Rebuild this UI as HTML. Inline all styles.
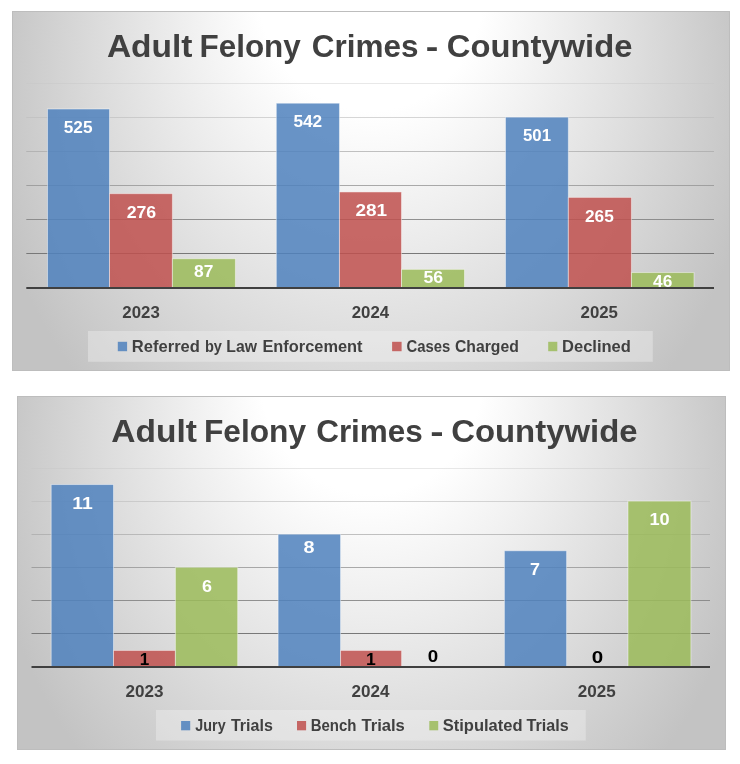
<!DOCTYPE html>
<html><head><meta charset="utf-8"><title>Adult Felony Crimes - Countywide</title>
<style>
html,body{margin:0;padding:0;background:#fff;}
body{width:740px;height:764px;overflow:hidden;font-family:"Liberation Sans", sans-serif;}
svg{display:block;will-change:transform;}
svg text{font-family:"Liberation Sans", sans-serif;}
</style></head><body>
<svg width="740" height="764" viewBox="0 0 740 764">
<defs>
<radialGradient id="g1" gradientUnits="userSpaceOnUse" cx="0" cy="0" r="1" fx="0" fy="-0.385" gradientTransform="translate(371.00 101.00) scale(384.92 426.46)"><stop offset="0" stop-color="#ffffff"/><stop offset="0.295" stop-color="#ffffff"/><stop offset="1" stop-color="#c3c3c3"/></radialGradient>
<radialGradient id="g2" gradientUnits="userSpaceOnUse" cx="0" cy="0" r="1" fx="0" fy="-0.385" gradientTransform="translate(371.50 484.50) scale(380.09 419.35)"><stop offset="0" stop-color="#ffffff"/><stop offset="0.295" stop-color="#ffffff"/><stop offset="1" stop-color="#c3c3c3"/></radialGradient>
</defs>
<rect x="0" y="0" width="740" height="764" fill="#ffffff"/>
<rect x="12" y="11" width="718" height="360" fill="url(#g1)"/>
<rect x="12.5" y="11.5" width="717" height="359" fill="none" stroke="#bdbdbd" stroke-width="1"/>
<line x1="26.3" x2="714" y1="83.5" y2="83.5" stroke="rgb(197,197,197)" stroke-opacity="0.4" stroke-width="1.0"/>
<line x1="26.3" x2="714" y1="117.5" y2="117.5" stroke="rgb(189,189,189)" stroke-opacity="0.62" stroke-width="1.0"/>
<line x1="26.3" x2="714" y1="151.5" y2="151.5" stroke="rgb(168,168,168)" stroke-opacity="0.7" stroke-width="1.0"/>
<line x1="26.3" x2="714" y1="185.5" y2="185.5" stroke="rgb(147,147,147)" stroke-opacity="0.78" stroke-width="1.0"/>
<line x1="26.3" x2="714" y1="219.5" y2="219.5" stroke="rgb(131,131,131)" stroke-opacity="0.88" stroke-width="1.0"/>
<line x1="26.3" x2="714" y1="253.5" y2="253.5" stroke="rgb(120,120,120)" stroke-opacity="1.0" stroke-width="1.0"/>
<rect x="47.50" y="109.00" width="62.00" height="178.50" fill="rgb(79,129,189)" fill-opacity="0.85" stroke="#ffffff" stroke-opacity="0.45" stroke-width="1"/>
<rect x="109.50" y="193.66" width="62.90" height="93.84" fill="rgb(192,80,77)" fill-opacity="0.85" stroke="#ffffff" stroke-opacity="0.45" stroke-width="1"/>
<rect x="172.40" y="258.72" width="63.00" height="28.78" fill="rgb(155,187,89)" fill-opacity="0.85" stroke="#ffffff" stroke-opacity="0.45" stroke-width="1"/>
<rect x="276.30" y="103.22" width="63.15" height="184.28" fill="rgb(79,129,189)" fill-opacity="0.85" stroke="#ffffff" stroke-opacity="0.45" stroke-width="1"/>
<rect x="339.45" y="191.96" width="62.05" height="95.54" fill="rgb(192,80,77)" fill-opacity="0.85" stroke="#ffffff" stroke-opacity="0.45" stroke-width="1"/>
<rect x="401.50" y="269.36" width="63.00" height="18.14" fill="rgb(155,187,89)" fill-opacity="0.85" stroke="#ffffff" stroke-opacity="0.45" stroke-width="1"/>
<rect x="505.50" y="117.16" width="62.85" height="170.34" fill="rgb(79,129,189)" fill-opacity="0.85" stroke="#ffffff" stroke-opacity="0.45" stroke-width="1"/>
<rect x="568.35" y="197.40" width="63.10" height="90.10" fill="rgb(192,80,77)" fill-opacity="0.85" stroke="#ffffff" stroke-opacity="0.45" stroke-width="1"/>
<rect x="631.45" y="272.56" width="62.55" height="14.94" fill="rgb(155,187,89)" fill-opacity="0.85" stroke="#ffffff" stroke-opacity="0.45" stroke-width="1"/>
<line x1="26.3" x2="714" y1="288.0" y2="288.0" stroke="#404040" stroke-width="2.0"/>
<text x="63.78" y="133" font-size="16.5" font-weight="bold" fill="#fff" textLength="28.76" lengthAdjust="spacingAndGlyphs">525</text>
<text x="126.66" y="217.8" font-size="16.5" font-weight="bold" fill="#fff" textLength="29.56" lengthAdjust="spacingAndGlyphs">276</text>
<text x="194.12" y="276.8" font-size="16.5" font-weight="bold" fill="#fff" textLength="19.32" lengthAdjust="spacingAndGlyphs">87</text>
<text x="293.46" y="126.9" font-size="16.5" font-weight="bold" fill="#fff" textLength="28.76" lengthAdjust="spacingAndGlyphs">542</text>
<text x="355.44" y="215.8" font-size="16.5" font-weight="bold" fill="#fff" textLength="31.62" lengthAdjust="spacingAndGlyphs">281</text>
<text x="423.56" y="283.4" font-size="16.5" font-weight="bold" fill="#fff" textLength="19.66" lengthAdjust="spacingAndGlyphs">56</text>
<text x="523.02" y="141.1" font-size="16.5" font-weight="bold" fill="#fff" textLength="27.96" lengthAdjust="spacingAndGlyphs">501</text>
<text x="585.00" y="222.2" font-size="16.5" font-weight="bold" fill="#fff" textLength="28.76" lengthAdjust="spacingAndGlyphs">265</text>
<text x="653.14" y="287.2" font-size="16.5" font-weight="bold" fill="#fff" textLength="19.18" lengthAdjust="spacingAndGlyphs">46</text>
<text x="122.34" y="317.6" font-size="16.5" font-weight="bold" fill="#404040" textLength="37.42" lengthAdjust="spacingAndGlyphs">2023</text>
<text x="351.68" y="317.6" font-size="16.5" font-weight="bold" fill="#404040" textLength="37.42" lengthAdjust="spacingAndGlyphs">2024</text>
<text x="580.56" y="317.6" font-size="16.5" font-weight="bold" fill="#404040" textLength="37.42" lengthAdjust="spacingAndGlyphs">2025</text>
<text x="106.92" y="56.6" font-size="32" font-weight="bold" fill="#404040" textLength="85.56" lengthAdjust="spacingAndGlyphs">Adult</text>
<text x="199.48" y="56.6" font-size="32" font-weight="bold" fill="#404040" textLength="101.32" lengthAdjust="spacingAndGlyphs">Felony</text>
<text x="311.72" y="56.6" font-size="32" font-weight="bold" fill="#404040" textLength="106.68" lengthAdjust="spacingAndGlyphs">Crimes</text>
<text x="425.72" y="56.6" font-size="32" font-weight="bold" fill="#404040" textLength="12.56" lengthAdjust="spacingAndGlyphs">-</text>
<text x="446.72" y="56.6" font-size="32" font-weight="bold" fill="#404040" textLength="185.66" lengthAdjust="spacingAndGlyphs">Countywide</text>
<rect x="88" y="331" width="564.8" height="30.80000000000001" fill="#f2f2f2" fill-opacity="0.39"/>
<rect x="117.8" y="341.8" width="9.30" height="9.40" fill="rgb(79,129,189)" fill-opacity="0.85"/>
<text x="131.88" y="351.6" font-size="16.5" font-weight="bold" fill="#404040" textLength="68.02" lengthAdjust="spacingAndGlyphs">Referred</text>
<text x="204.90" y="351.6" font-size="16.5" font-weight="bold" fill="#404040" textLength="16.98" lengthAdjust="spacingAndGlyphs">by</text>
<text x="226.32" y="351.6" font-size="16.5" font-weight="bold" fill="#404040" textLength="30.66" lengthAdjust="spacingAndGlyphs">Law</text>
<text x="262.44" y="351.6" font-size="16.5" font-weight="bold" fill="#404040" textLength="100.10" lengthAdjust="spacingAndGlyphs">Enforcement</text>
<rect x="392.1" y="341.8" width="9.50" height="9.40" fill="rgb(192,80,77)" fill-opacity="0.85"/>
<text x="406.56" y="351.6" font-size="16.5" font-weight="bold" fill="#404040" textLength="43.76" lengthAdjust="spacingAndGlyphs">Cases</text>
<text x="455.00" y="351.6" font-size="16.5" font-weight="bold" fill="#404040" textLength="63.78" lengthAdjust="spacingAndGlyphs">Charged</text>
<rect x="548.2" y="341.8" width="9.10" height="9.40" fill="rgb(155,187,89)" fill-opacity="0.85"/>
<text x="562.10" y="351.6" font-size="16.5" font-weight="bold" fill="#404040" textLength="68.80" lengthAdjust="spacingAndGlyphs">Declined</text>
<rect x="17" y="396" width="709" height="354" fill="url(#g2)"/>
<rect x="17.5" y="396.5" width="708" height="353" fill="none" stroke="#bdbdbd" stroke-width="1"/>
<line x1="31.5" x2="710" y1="468.5" y2="468.5" stroke="rgb(197,197,197)" stroke-opacity="0.4" stroke-width="1.0"/>
<line x1="31.5" x2="710" y1="501.5" y2="501.5" stroke="rgb(189,189,189)" stroke-opacity="0.62" stroke-width="1.0"/>
<line x1="31.5" x2="710" y1="534.5" y2="534.5" stroke="rgb(168,168,168)" stroke-opacity="0.7" stroke-width="1.0"/>
<line x1="31.5" x2="710" y1="567.5" y2="567.5" stroke="rgb(147,147,147)" stroke-opacity="0.78" stroke-width="1.0"/>
<line x1="31.5" x2="710" y1="600.5" y2="600.5" stroke="rgb(131,131,131)" stroke-opacity="0.88" stroke-width="1.0"/>
<line x1="31.5" x2="710" y1="633.5" y2="633.5" stroke="rgb(120,120,120)" stroke-opacity="1.0" stroke-width="1.0"/>
<rect x="51.20" y="484.55" width="62.30" height="182.05" fill="rgb(79,129,189)" fill-opacity="0.85" stroke="#ffffff" stroke-opacity="0.45" stroke-width="1"/>
<rect x="113.50" y="650.45" width="61.90" height="16.15" fill="rgb(192,80,77)" fill-opacity="0.85" stroke="#ffffff" stroke-opacity="0.45" stroke-width="1"/>
<rect x="175.40" y="567.30" width="62.30" height="99.30" fill="rgb(155,187,89)" fill-opacity="0.85" stroke="#ffffff" stroke-opacity="0.45" stroke-width="1"/>
<rect x="278.10" y="534.20" width="62.45" height="132.40" fill="rgb(79,129,189)" fill-opacity="0.85" stroke="#ffffff" stroke-opacity="0.45" stroke-width="1"/>
<rect x="340.55" y="650.45" width="61.05" height="16.15" fill="rgb(192,80,77)" fill-opacity="0.85" stroke="#ffffff" stroke-opacity="0.45" stroke-width="1"/>
<rect x="504.40" y="550.75" width="62.20" height="115.85" fill="rgb(79,129,189)" fill-opacity="0.85" stroke="#ffffff" stroke-opacity="0.45" stroke-width="1"/>
<rect x="628.00" y="501.10" width="62.90" height="165.50" fill="rgb(155,187,89)" fill-opacity="0.85" stroke="#ffffff" stroke-opacity="0.45" stroke-width="1"/>
<line x1="31.5" x2="710" y1="667.0" y2="667.0" stroke="#404040" stroke-width="2.0"/>
<text x="72.32" y="509" font-size="16.5" font-weight="bold" fill="#fff" textLength="20.46" lengthAdjust="spacingAndGlyphs">11</text>
<text x="139.78" y="665" font-size="16.5" font-weight="bold" fill="#000" textLength="9.54" lengthAdjust="spacingAndGlyphs">1</text>
<text x="201.90" y="591.7" font-size="16.5" font-weight="bold" fill="#fff" textLength="9.98" lengthAdjust="spacingAndGlyphs">6</text>
<text x="303.56" y="553" font-size="16.5" font-weight="bold" fill="#fff" textLength="11.00" lengthAdjust="spacingAndGlyphs">8</text>
<text x="366.10" y="665" font-size="16.5" font-weight="bold" fill="#000" textLength="9.78" lengthAdjust="spacingAndGlyphs">1</text>
<text x="427.78" y="662.1" font-size="16.5" font-weight="bold" fill="#000" textLength="10.44" lengthAdjust="spacingAndGlyphs">0</text>
<text x="529.90" y="575.1" font-size="16.5" font-weight="bold" fill="#fff" textLength="9.98" lengthAdjust="spacingAndGlyphs">7</text>
<text x="591.66" y="662.9" font-size="16.5" font-weight="bold" fill="#000" textLength="11.46" lengthAdjust="spacingAndGlyphs">0</text>
<text x="649.44" y="524.9" font-size="16.5" font-weight="bold" fill="#fff" textLength="20.22" lengthAdjust="spacingAndGlyphs">10</text>
<text x="125.56" y="696.8" font-size="16.5" font-weight="bold" fill="#404040" textLength="37.98" lengthAdjust="spacingAndGlyphs">2023</text>
<text x="351.44" y="696.8" font-size="16.5" font-weight="bold" fill="#404040" textLength="37.98" lengthAdjust="spacingAndGlyphs">2024</text>
<text x="577.78" y="696.8" font-size="16.5" font-weight="bold" fill="#404040" textLength="37.98" lengthAdjust="spacingAndGlyphs">2025</text>
<text x="111.36" y="441.8" font-size="32" font-weight="bold" fill="#404040" textLength="85.56" lengthAdjust="spacingAndGlyphs">Adult</text>
<text x="203.92" y="441.8" font-size="32" font-weight="bold" fill="#404040" textLength="102.12" lengthAdjust="spacingAndGlyphs">Felony</text>
<text x="316.16" y="441.8" font-size="32" font-weight="bold" fill="#404040" textLength="106.68" lengthAdjust="spacingAndGlyphs">Crimes</text>
<text x="430.16" y="441.8" font-size="32" font-weight="bold" fill="#404040" textLength="13.36" lengthAdjust="spacingAndGlyphs">-</text>
<text x="451.16" y="441.8" font-size="32" font-weight="bold" fill="#404040" textLength="186.46" lengthAdjust="spacingAndGlyphs">Countywide</text>
<rect x="156" y="710" width="429.70000000000005" height="30.5" fill="#f2f2f2" fill-opacity="0.39"/>
<rect x="181.1" y="721" width="9.10" height="9.30" fill="rgb(79,129,189)" fill-opacity="0.85"/>
<text x="195.36" y="730.5" font-size="16.5" font-weight="bold" fill="#404040" textLength="30.28" lengthAdjust="spacingAndGlyphs">Jury</text>
<text x="230.92" y="730.5" font-size="16.5" font-weight="bold" fill="#404040" textLength="41.96" lengthAdjust="spacingAndGlyphs">Trials</text>
<rect x="297" y="721" width="9.10" height="9.30" fill="rgb(192,80,77)" fill-opacity="0.85"/>
<text x="310.66" y="730.5" font-size="16.5" font-weight="bold" fill="#404040" textLength="45.78" lengthAdjust="spacingAndGlyphs">Bench</text>
<text x="361.46" y="730.5" font-size="16.5" font-weight="bold" fill="#404040" textLength="43.42" lengthAdjust="spacingAndGlyphs">Trials</text>
<rect x="429.3" y="721" width="8.90" height="9.30" fill="rgb(155,187,89)" fill-opacity="0.85"/>
<text x="442.68" y="730.5" font-size="16.5" font-weight="bold" fill="#404040" textLength="79.88" lengthAdjust="spacingAndGlyphs">Stipulated</text>
<text x="526.58" y="730.5" font-size="16.5" font-weight="bold" fill="#404040" textLength="42.08" lengthAdjust="spacingAndGlyphs">Trials</text>
</svg>
</body></html>
